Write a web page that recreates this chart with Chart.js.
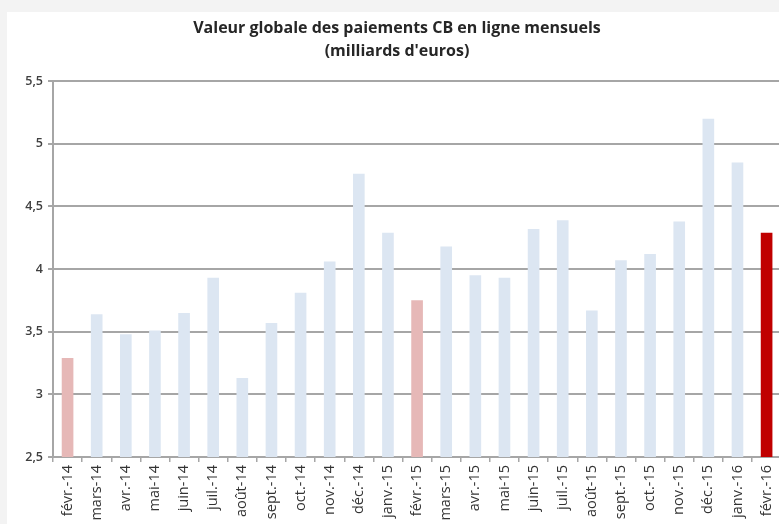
<!DOCTYPE html>
<html lang="fr">
<head>
<meta charset="utf-8">
<title>Valeur globale des paiements CB en ligne mensuels</title>
<script src="https://cdn.jsdelivr.net/npm/chart.js@4.4.1/dist/chart.umd.min.js"></script>
<style>
  html, body { margin: 0; padding: 0; overflow: hidden; background: #f3f3f3; }
  #wrap { position: absolute; left: 7px; top: 12px; width: 780px; height: 530px; background: #fff; }
</style>
</head>
<body>
<div id="wrap"><canvas id="chart"></canvas></div>
<script>
// ── Données ─────────────────────────────────────────────────────
var mois = [
  'févr.-14', 'mars-14', 'avr.-14', 'mai-14', 'juin-14', 'juil.-14', 'août-14',
  'sept.-14', 'oct.-14', 'nov.-14', 'déc.-14', 'janv.-15', 'févr.-15', 'mars-15',
  'avr.-15', 'mai-15', 'juin-15', 'juil.-15', 'août-15', 'sept.-15', 'oct.-15',
  'nov.-15', 'déc.-15', 'janv.-16', 'févr.-16'
];
var valeurs = [
  3.29, 3.64, 3.48, 3.51, 3.65, 3.93, 3.13,
  3.57, 3.81, 4.06, 4.76, 4.29, 3.75, 4.18,
  3.95, 3.93, 4.32, 4.39, 3.67, 4.07, 4.12,
  4.38, 5.20, 4.85, 4.29
];
// février = rose, dernier mois = rouge foncé
var couleurs = mois.map(function (m, i) {
  if (i === mois.length - 1) return '#c00000';
  if (m.indexOf('févr.') === 0) return '#e6b8b7';
  return '#dce6f2';
});
var titre = ['Valeur globale des paiements CB en ligne mensuels', '(milliards d\'euros)'];

var gris = '#a6a6a6';

new Chart(document.getElementById('chart'), {
  type: 'bar',
  data: {
    labels: mois,
    datasets: [{
      data: valeurs,
      backgroundColor: couleurs,
      borderWidth: 0,
      barPercentage: 0.4,
      categoryPercentage: 1
    }]
  },
  options: {
    responsive: true,
    maintainAspectRatio: false,
    animation: false,
    layout: { padding: { top: 5, left: 0, right: 0, bottom: 0 } },
    plugins: {
      legend: { display: false },
      tooltip: { enabled: false },
      title: {
        display: true,
        text: titre,
        color: '#262626',
        font: { family: 'Open Sans', size: 16, weight: 'bold', lineHeight: 1.44 },
        padding: { top: 0, bottom: 18 }
      }
    },
    scales: {
      x: {
        afterFit: function (s) { s.height = 85; },
        grid: { offset: true, drawOnChartArea: false, drawTicks: true, tickLength: 5, color: gris, lineWidth: 1.5 },
        border: { color: gris, width: 2 },
        ticks: {
          minRotation: 90, maxRotation: 90, autoSkip: false, padding: 3,
          color: '#333', font: { family: 'Open Sans', size: 14.5 }
        }
      },
      y: {
        min: 2.5, max: 5.5,
        afterFit: function (s) { s.width = 46; },
        grid: { color: gris, lineWidth: 2, tickLength: 5 },
        border: { color: gris, width: 2 },
        ticks: {
          stepSize: 0.5, padding: 5, color: '#404040',
          font: { family: 'Open Sans', size: 12.5, weight: '600' },
          callback: function (v) { return String(v).replace('.', ','); }
        }
      }
    }
  }
});
</script>
</body>
</html>
